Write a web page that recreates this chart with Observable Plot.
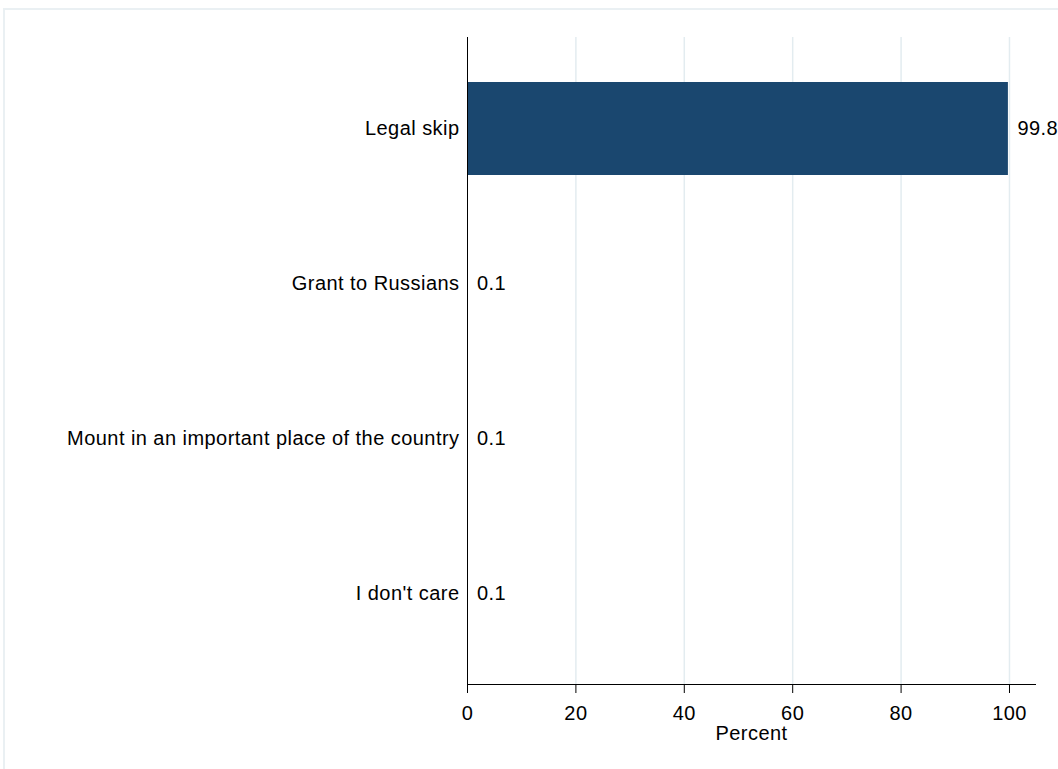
<!DOCTYPE html>
<html><head><meta charset="utf-8">
<script src="https://cdn.jsdelivr.net/npm/d3@7"></script>
<script src="https://cdn.jsdelivr.net/npm/@observablehq/plot@0.6"></script>
<style>
body{margin:0;background:#fff;}
#wrap{position:relative;width:1058px;height:769px;overflow:hidden;}
#frame{position:absolute;left:3px;top:8px;width:1100px;height:800px;border:2px solid #eaf0f3;box-sizing:border-box;}
#chart{position:absolute;left:0;top:0;}
#chart svg text{letter-spacing:0.45px;}
</style></head><body><div id="wrap"><div id="frame"></div><div id="chart"></div></div>
<script>
const categories = ["Legal skip", "Grant to Russians", "Mount in an important place of the country", "I don't care"];
const percents = [99.8, 0.1, 0.1, 0.1];
const valueLabels = ["99.8", "0.1", "0.1", "0.1"];
const xTicks = [0, 20, 40, 60, 80, 100];
const data = categories.map((c, i) => ({category: c, percent: percents[i], label: valueLabels[i]}));

const chart = Plot.plot({
  width: 1058, height: 769,
  marginLeft: 467, marginRight: 23, marginTop: 37, marginBottom: 85,
  style: {fontFamily: "'Liberation Sans', Arial, sans-serif", fontSize: "20px", background: "transparent", color: "#000"},
  x: {domain: [0, 104.8], label: null},
  y: {domain: categories, paddingInner: 0.4, paddingOuter: 0.283, label: null},
  marks: [
    Plot.gridX(xTicks.slice(1), {stroke: "#e3ecf0", strokeOpacity: 1, strokeWidth: 1.5}),
    Plot.barX(data, {x: "percent", y: "category", fill: "#1a476f"}),
    Plot.text(data, {x: "percent", y: "category", text: "label", textAnchor: "start", dx: 9, fill: "#000", fontSize: 20}),
    Plot.axisX({ticks: xTicks, tickSize: 9, tickPadding: 12, fontSize: 20, label: "Percent", labelAnchor: "center", labelArrow: "none", labelOffset: 55, stroke: "#000", strokeOpacity: 1}),
    Plot.axisY({tickSize: 0, tickPadding: 8, fontSize: 20}),
    Plot.frame({anchor: "bottom", stroke: "#000", strokeOpacity: 1}),
    Plot.frame({anchor: "left", stroke: "#000", strokeOpacity: 1})
  ]
});
document.getElementById("chart").appendChild(chart);
</script>
</body></html>
